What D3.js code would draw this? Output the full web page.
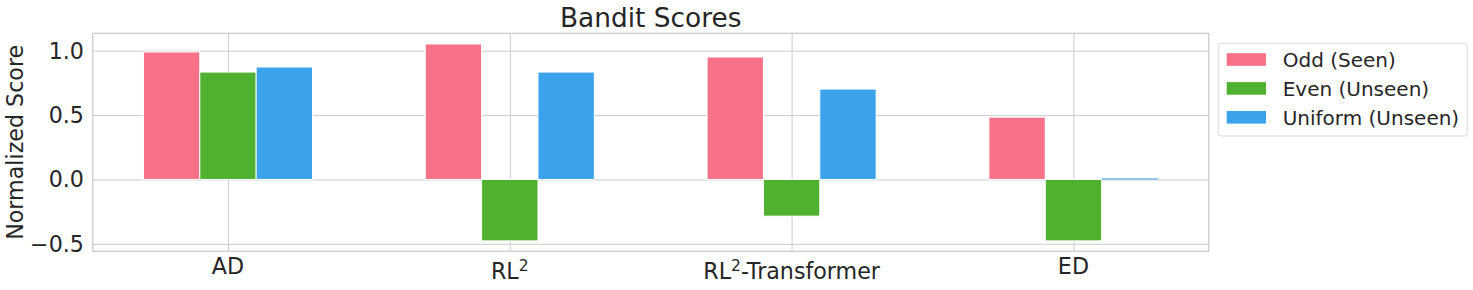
<!DOCTYPE html>
<html>
<head>
<meta charset="utf-8">
<script src="https://cdn.jsdelivr.net/npm/d3@7"></script>
<style>
  body { margin: 0; background: #fff; }
  text { font-family: "DejaVu Sans", sans-serif; fill: #262626; }
</style>
</head>
<body>
<div id="chart"></div>
<script>
// data
const categories = ["AD", "RL^2", "RL^2-Transformer", "ED"];
const seriesNames = ["Odd (Seen)", "Even (Unseen)", "Uniform (Unseen)"];
const oddSeen = [0.99, 1.052, 0.951, 0.484];
const evenUnseen = [0.834, -0.477, -0.285, -0.477];
const uniformUnseen = [0.873, 0.834, 0.702, 0.008];
const yTicks = [-0.5, 0.0, 0.5, 1.0];
const colors = ["#f77189", "#50b131", "#3ba3ec"];

const W = 1473, H = 290;
const plot = {left: 92.7, right: 1208.7, top: 33.3, bottom: 251.3};

const svg = d3.select("#chart").append("svg")
  .attr("width", W).attr("height", H);

const x = d3.scalePoint()
  .domain(categories)
  .range([plot.left, plot.right])
  .padding(0.48);

const step = x.step();
const xs = d3.scaleBand()
  .domain(seriesNames)
  .range([-0.3 * step, 0.3 * step]);

const y = d3.scaleLinear()
  .domain([-0.558, 1.135])
  .range([plot.bottom, plot.top]);

// grid
svg.append("g")
  .attr("transform", `translate(${plot.left},0)`)
  .call(d3.axisLeft(y).tickValues(yTicks).tickSize(-(plot.right - plot.left)).tickFormat(""))
  .call(g => g.select(".domain").remove())
  .selectAll("line").attr("stroke", "#cccccc").attr("stroke-width", 1);

svg.append("g")
  .attr("transform", `translate(0,${plot.bottom})`)
  .call(d3.axisBottom(x).tickSize(-(plot.bottom - plot.top)).tickFormat(""))
  .call(g => g.select(".domain").remove())
  .selectAll("line").attr("stroke", "#cccccc").attr("stroke-width", 1);

// bars
const values = [oddSeen, evenUnseen, uniformUnseen];
const rows = [];
seriesNames.forEach((s, si) => {
  categories.forEach((c, ci) => rows.push({s: s, si: si, c: c, v: values[si][ci]}));
});

svg.append("g").selectAll("rect")
  .data(rows)
  .join("rect")
    .attr("x", d => x(d.c) + xs(d.s))
    .attr("width", xs.bandwidth())
    .attr("y", d => y(Math.max(0, d.v)))
    .attr("height", d => Math.max(1, Math.abs(y(d.v) - y(0))))
    .attr("fill", d => colors[d.si])
    // white edge, but not on the tiny ED bar or it vanishes
    .attr("stroke", d => Math.abs(y(d.v) - y(0)) > 3 ? "#fff" : "none")
    .attr("stroke-width", 1);

// frame
svg.append("rect")
  .attr("x", plot.left).attr("y", plot.top)
  .attr("width", plot.right - plot.left).attr("height", plot.bottom - plot.top)
  .attr("fill", "none").attr("stroke", "#cccccc").attr("stroke-width", 1.25);

// y tick labels
svg.append("g").selectAll("text")
  .data(yTicks)
  .join("text")
    .attr("x", plot.left - 8.7)
    .attr("y", d => y(d))
    .attr("dy", "0.36em")
    .attr("text-anchor", "end")
    .style("font-size", "22.2px")
    .text(d => d3.format(".1f")(d).replace("-", "\u2212"));

// x tick labels, ^2 drawn as superscript (those sit a bit lower, like mathtext)
const xl = svg.append("g").selectAll("text")
  .data(categories)
  .join("text")
    .attr("x", d => x(d))
    .attr("y", d => d.includes("^2") ? 278.5 : 273.5)
    .attr("text-anchor", "middle")
    .style("font-size", "22.2px");

xl.each(function(d) {
  const t = d3.select(this);
  const parts = d.split("^2");
  t.append("tspan").text(parts[0]);
  if (parts.length > 1) {
    t.append("tspan").attr("dy", -7.5).style("font-size", "15.5px").text("2");
    t.append("tspan").attr("dy", 7.5).text(parts[1]);
  }
});

// title
svg.append("text")
  .attr("x", (plot.left + plot.right) / 2)
  .attr("y", 27.3)
  .attr("text-anchor", "middle")
  .style("font-size", "26.4px")
  .text("Bandit Scores");

// y label
svg.append("text")
  .attr("transform", `translate(22.7,${(plot.top + plot.bottom) / 2}) rotate(-90)`)
  .attr("text-anchor", "middle")
  .style("font-size", "22.2px")
  .text("Normalized Score");

// legend
const lg = svg.append("g");
lg.append("rect")
  .attr("x", 1218.3).attr("y", 43.3)
  .attr("width", 249).attr("height", 92.7)
  .attr("rx", 3)
  .attr("fill", "#fff").attr("fill-opacity", 0.8)
  .attr("stroke", "#dddddd").attr("stroke-width", 1);

const item = lg.selectAll("g.item")
  .data(seriesNames)
  .join("g")
    .attr("class", "item")
    .attr("transform", (d, i) => `translate(0,${59.5 + i * 28.9})`);

item.append("rect")
  .attr("x", 1226.7).attr("y", -6.3)
  .attr("width", 39.3).attr("height", 12.6)
  .attr("fill", (d, i) => colors[i]);

item.append("text")
  .attr("x", 1282.7)
  .attr("dy", "0.36em")
  .style("font-size", "20px")
  .text(d => d);
</script>
</body>
</html>
